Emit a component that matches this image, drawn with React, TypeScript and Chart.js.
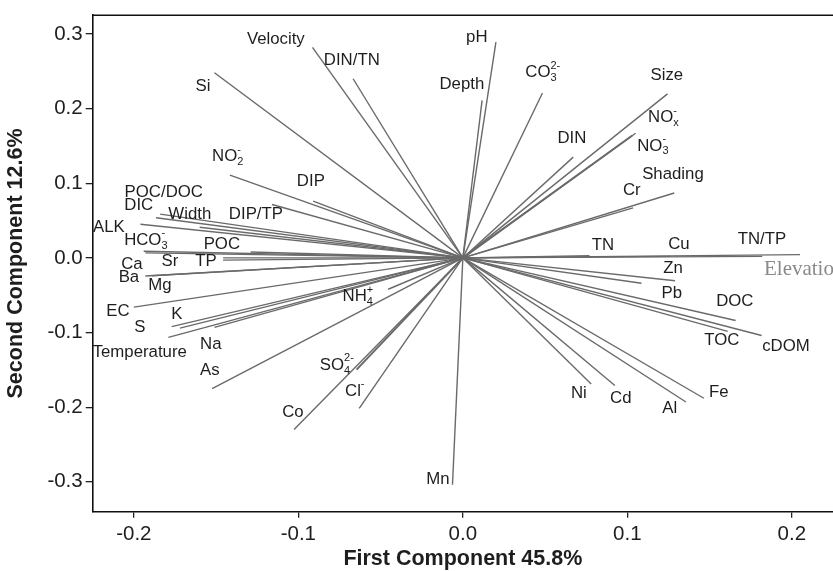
import React, { useEffect, useRef } from "react";
import { Chart, registerables } from "chart.js";

Chart.register(...registerables);

// Variable names (markup: _ = subscript, ^ = superscript)
const variables = [
  "Si", "Velocity", "DIN/TN", "pH", "Depth", "CO_3^{2-}", "DIN", "Size", "NO_x^-", "NO_3^-",
  "Shading", "Cr", "TN", "Cu", "TN/TP", "Elevation", "Zn", "Pb", "DOC", "TOC",
  "cDOM", "Fe", "Al", "Cd", "Ni", "Mn", "Co", "Cl^-", "SO_4^{2-}", "NH_4^+",
  "As", "Temperature", "Na", "S", "K", "EC", "Mg", "Ba", "Ca", "Sr",
  "TP", "POC", "HCO_3^-", "ALK", "DIC", "POC/DOC", "Width", "DIP/TP", "DIP", "NO_2^-",
];

// Loadings on the first component
const pc1 = [
  -0.151, -0.0914, -0.0667, 0.0201, 0.0117, 0.0484, 0.0671, 0.1244, 0.105, 0.103,
  0.1285, 0.1035, 0.077, 0.126, 0.205, 0.182, 0.129, 0.1086, 0.1658, 0.161,
  0.1816, 0.1465, 0.1356, 0.0924, 0.078, -0.0063, -0.1026, -0.063, -0.0646, -0.0454,
  -0.1524, -0.179, -0.151, -0.172, -0.177, -0.2, -0.189, -0.193, -0.193, -0.1457,
  -0.1457, -0.129, -0.194, -0.196, -0.1865, -0.184, -0.16, -0.116, -0.091, -0.1416,
];

// Loadings on the second component
const pc2 = [
  0.248, 0.282, 0.24, 0.289, 0.211, 0.221, 0.135, 0.2197, 0.167, 0.164,
  0.087, 0.067, 0.003, 0.002, 0.0044, 0.002, -0.0306, -0.034, -0.0839, -0.0985,
  -0.1039, -0.188, -0.193, -0.171, -0.169, -0.304, -0.23, -0.2015, -0.1496, -0.042,
  -0.175, -0.1065, -0.093, -0.094, -0.092, -0.066, -0.024, -0.0243, 0.0067, -0.003,
  0.0, 0.008, 0.009, 0.045, 0.0537, 0.0586, 0.041, 0.0715, 0.076, 0.111,
];

// Label anchor (centre) in component units
const labelPc1 = [
  -0.158, -0.1137, -0.0675, 0.0085, -0.0006, 0.0486, 0.0663, 0.124, 0.1219, 0.1155,
  0.1277, 0.1027, 0.0851, 0.1313, 0.1818, 0.2075, 0.1277, 0.127, 0.1653, 0.1574,
  0.1964, 0.1556, 0.1258, 0.096, 0.0705, -0.0152, -0.1033, -0.0657, -0.0766, -0.0638,
  -0.1538, -0.1964, -0.1532, -0.1964, -0.1739, -0.2097, -0.1842, -0.203, -0.2012, -0.1781,
  -0.1562, -0.1465, -0.1927, -0.2152, -0.197, -0.1818, -0.166, -0.1258, -0.0924, -0.1429,
];
const labelPc2 = [
  0.23, 0.293, 0.264, 0.296, 0.232, 0.248, 0.16, 0.245, 0.188, 0.15,
  0.112, 0.0905, 0.0173, 0.0186, 0.0253, -0.016, -0.0146, -0.048, -0.0586, -0.1105,
  -0.1185, -0.1798, -0.201, -0.1877, -0.1811, -0.297, -0.2064, -0.1784, -0.1438, -0.0519,
  -0.1505, -0.1265, -0.1158, -0.0932, -0.0759, -0.0719, -0.0373, -0.0266, -0.0093, -0.0053,
  -0.0053, 0.0186, 0.024, 0.0413, 0.0706, 0.0879, 0.0586, 0.0586, 0.1025, 0.1358,
];

const xTicks = [-0.2, -0.1, 0, 0.1, 0.2];
const yTicks = [0.3, 0.2, 0.1, 0, -0.1, -0.2, -0.3];
const xTitle = "First Component 45.8%";
const yTitle = "Second Component 12.6%";

const SANS = "'Liberation Sans', Arial, sans-serif";
const SERIF = "'Liberation Serif', 'Times New Roman', serif";

function parseLabel(s: string) {
  const m = s.match(/^([^_^]*)(?:_(\{[^}]*\}|.))?(?:\^(\{[^}]*\}|.))?$/);
  const strip = (t?: string) => (t ? t.replace(/[{}]/g, "") : "");
  if (!m) return { base: s, sub: "", sup: "" };
  return { base: m[1], sub: strip(m[2]), sup: strip(m[3]) };
}

const labelPlugin = {
  id: "biplotLabels",
  afterDatasetsDraw(chart: any) {
    const { ctx, scales } = chart;
    const xs = scales.x;
    const ys = scales.y;
    ctx.save();
    ctx.textBaseline = "middle";
    variables.forEach((name, i) => {
      const px = xs.getPixelForValue(labelPc1[i]);
      const py = ys.getPixelForValue(labelPc2[i]);
      if (name === "Elevation") {
        ctx.font = `21px ${SERIF}`;
        ctx.fillStyle = "#8a8a8a";
        ctx.textAlign = "center";
        ctx.fillText(name, px, py);
        return;
      }
      const size = 16.8;
      const small = 11;
      const { base, sub, sup } = parseLabel(name);
      ctx.font = `${size}px ${SANS}`;
      const bw = ctx.measureText(base).width;
      ctx.font = `${small}px ${SANS}`;
      const sw = Math.max(sub ? ctx.measureText(sub).width : 0, sup ? ctx.measureText(sup).width : 0);
      const total = bw + sw;
      const left = px - total / 2;
      ctx.fillStyle = "#1e1e1e";
      ctx.textAlign = "left";
      ctx.font = `${size}px ${SANS}`;
      ctx.fillText(base, left, py);
      ctx.font = `${small}px ${SANS}`;
      if (sub) ctx.fillText(sub, left + bw, py + 5.5);
      if (sup) ctx.fillText(sup, left + bw, py - 7);
    });
    ctx.restore();
  },
  afterDraw(chart: any) {
    const { ctx, chartArea } = chart;
    ctx.save();
    ctx.strokeStyle = "#111";
    ctx.lineWidth = 1.6;
    ctx.beginPath();
    ctx.moveTo(chartArea.left, chartArea.top);
    ctx.lineTo(chartArea.right, chartArea.top);
    ctx.stroke();
    ctx.restore();
  },
};

export default function App() {
  const ref = useRef<HTMLCanvasElement | null>(null);

  useEffect(() => {
    document.body.style.margin = "0";
    const canvas = ref.current;
    if (!canvas) return;
    const datasets = variables.map((v, i) => ({
      label: v,
      data: [
        { x: 0, y: 0 },
        { x: pc1[i], y: pc2[i] },
      ],
      showLine: true,
      borderColor: "#6a6a6a",
      borderWidth: v === "SO_4^{2-}" || v === "NO_3^-" ? 2 : 1.4,
      pointRadius: 0,
      fill: false,
    }));

    const chart = new Chart(canvas, {
      type: "scatter",
      data: { datasets },
      plugins: [labelPlugin],
      options: {
        animation: false,
        responsive: false,
        devicePixelRatio: 1,
        layout: { padding: { top: 12, right: 0, left: 0, bottom: 0 } },
        plugins: { legend: { display: false }, tooltip: { enabled: false } },
        scales: {
          x: {
            type: "linear",
            min: -0.225,
            max: 0.225,
            afterBuildTicks: (s: any) => {
              s.ticks = xTicks.map((v) => ({ value: v }));
            },
            afterFit: (s: any) => {
              s.height = 59.3;
            },
            ticks: {
              color: "#1e1e1e",
              font: { family: SANS, size: 20.5 },
              padding: 4,
              maxRotation: 0,
              callback: (v: any) => Number(v).toFixed(1),
            },
            grid: { drawOnChartArea: false, drawTicks: true, tickLength: 6, color: "#222", lineWidth: 1.3 },
            border: { display: true, color: "#111", width: 1.6 },
            title: {
              display: true,
              text: xTitle,
              color: "#1e1e1e",
              font: { family: SANS, size: 21.5, weight: "bold", lineHeight: 1.1 },
              padding: { top: 0, bottom: 0 },
            },
          },
          y: {
            type: "linear",
            min: -0.34,
            max: 0.325,
            afterBuildTicks: (s: any) => {
              s.ticks = yTicks.map((v) => ({ value: v }));
            },
            afterFit: (s: any) => {
              s.width = 92.7;
            },
            ticks: {
              color: "#1e1e1e",
              font: { family: SANS, size: 20.5 },
              padding: 3,
              callback: (v: any) => Number(v).toFixed(1),
            },
            grid: { drawOnChartArea: false, drawTicks: true, tickLength: 7, color: "#222", lineWidth: 1.3 },
            border: { display: true, color: "#111", width: 1.6 },
            title: {
              display: true,
              text: yTitle,
              color: "#1e1e1e",
              font: { family: SANS, size: 21.5, weight: "bold", lineHeight: 1.1 },
              padding: { top: 4.7, bottom: 0 },
            },
          },
        },
      },
    } as any);
    return () => chart.destroy();
  }, []);

  return (
    <div style={{ position: "absolute", left: 0, top: 0, width: 833, height: 571, background: "#fff" }}>
      <canvas ref={ref} width={833} height={571} style={{ display: "block" }} />
    </div>
  );
}
